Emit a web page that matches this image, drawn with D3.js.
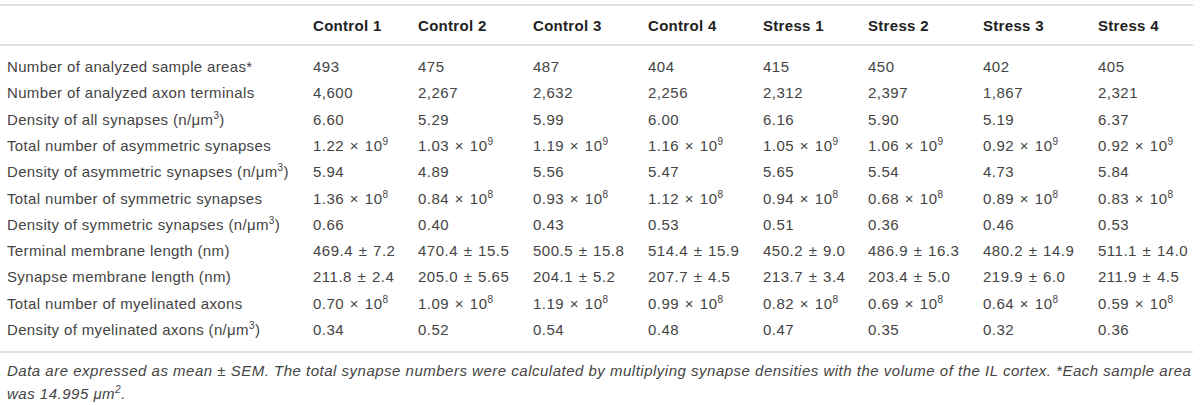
<!DOCTYPE html>
<html><head><meta charset="utf-8">
<script src="https://cdn.jsdelivr.net/npm/d3@7"></script>
<style>
html,body{margin:0;padding:0;background:#fff;}
svg{display:block;}
text{font-family:"Liberation Sans",Arial,sans-serif;}
</style></head>
<body><svg id="chart" width="1200" height="405"></svg>
<script>
const groups = ["Control 1","Control 2","Control 3","Control 4","Stress 1","Stress 2","Stress 3","Stress 4"];
const rowLabels = [
  "Number of analyzed sample areas*",
  "Number of analyzed axon terminals",
  "Density of all synapses (n/μm^3)",
  "Total number of asymmetric synapses",
  "Density of asymmetric synapses (n/μm^3)",
  "Total number of symmetric synapses",
  "Density of symmetric synapses (n/μm^3)",
  "Terminal membrane length (nm)",
  "Synapse membrane length (nm)",
  "Total number of myelinated axons",
  "Density of myelinated axons (n/μm^3)"
];
const sampleAreas   = [493,475,487,404,415,450,402,405];
const axonTerminals = [4600,2267,2632,2256,2312,2397,1867,2321];
const densityAll    = [6.60,5.29,5.99,6.00,6.16,5.90,5.19,6.37];
const totalAsym     = [1.22,1.03,1.19,1.16,1.05,1.06,0.92,0.92]; // x 10^9
const densityAsym   = [5.94,4.89,5.56,5.47,5.65,5.54,4.73,5.84];
const totalSym      = [1.36,0.84,0.93,1.12,0.94,0.68,0.89,0.83]; // x 10^8
const densitySym    = [0.66,0.40,0.43,0.53,0.51,0.36,0.46,0.53];
const terminalMean  = [469.4,470.4,500.5,514.4,450.2,486.9,480.2,511.1];
const terminalSem   = [7.2,15.5,15.8,15.9,9.0,16.3,14.9,14.0];
const synapseMean   = [211.8,205.0,204.1,207.7,213.7,203.4,219.9,211.9];
const synapseSem    = [2.4,5.65,5.2,4.5,3.4,5.0,6.0,4.5];
const totalMyel     = [0.70,1.09,1.19,0.99,0.82,0.69,0.64,0.59]; // x 10^8
const densityMyel   = [0.34,0.52,0.54,0.48,0.47,0.35,0.32,0.36];
const footnote = [
  "Data are expressed as mean ± SEM. The total synapse numbers were calculated by multiplying synapse densities with the volume of the IL cortex. *Each sample area",
  "was 14.995 μm^2."
];

const f2 = d3.format(".2f"), f1 = d3.format(".1f"), fc = d3.format(",");
const fsem = v => (Math.round(v*10) === v*10) ? f1(v) : String(v);
const sci = e => v => f2(v) + " × 10^" + e;
const pm = (m, s) => i => f1(m[i]) + " ± " + fsem(s[i]);
const rows = [
  i => String(sampleAreas[i]),
  i => fc(axonTerminals[i]),
  i => f2(densityAll[i]),
  i => sci(9)(totalAsym[i]),
  i => f2(densityAsym[i]),
  i => sci(8)(totalSym[i]),
  i => f2(densitySym[i]),
  pm(terminalMean, terminalSem),
  pm(synapseMean, synapseSem),
  i => sci(8)(totalMyel[i]),
  i => f2(densityMyel[i])
];

const svg = d3.select("#chart");
const colX = d3.scaleOrdinal().domain(groups).range([313,418,533,648,763,868,983,1098]);
const rowY = d3.scaleLinear().domain([0, rowLabels.length - 1]).range([72, 335]);
const fs = 15;
const textCol = "#444";

function addRich(sel, str) {
  const parts = str.split(/(\^\d+)/).filter(p => p);
  let pendingDy = 0;
  parts.forEach(p => {
    if (p[0] === "^") {
      sel.append("tspan").attr("dy", -6).attr("font-size", 10).text(p.slice(1));
      pendingDy = 6;
    } else {
      const ts = sel.append("tspan").text(p);
      if (pendingDy) { ts.attr("dy", pendingDy); pendingDy = 0; }
    }
  });
}

// rules
const ruleCol = "#dedede";
[5, 45, 352].forEach(y => svg.append("line").attr("x1", 0).attr("x2", 1193).attr("y1", y).attr("y2", y)
  .attr("stroke", ruleCol).attr("stroke-width", 2));

// header
svg.selectAll("text.hdr").data(groups).join("text").attr("class", "hdr")
  .attr("x", d => colX(d)).attr("y", 31).attr("font-size", fs).attr("font-weight", "bold")
  .attr("letter-spacing", 0.3).attr("fill", "#222").text(d => d);

// row labels
rowLabels.forEach((lab, r) => {
  const t = svg.append("text").attr("x", 7).attr("y", rowY(r)).attr("font-size", fs)
    .attr("letter-spacing", 0.35).attr("fill", textCol);
  addRich(t, lab);
});

// cells
rows.forEach((fn, r) => {
  groups.forEach((g, i) => {
    const t = svg.append("text").attr("x", colX(g)).attr("y", rowY(r)).attr("font-size", fs)
      .attr("letter-spacing", 0.5).attr("word-spacing", 1).attr("fill", textCol);
    addRich(t, fn(i));
  });
});

// footnote
footnote.forEach((line, k) => {
  const t = svg.append("text").attr("x", 7).attr("y", 376 + k * 23).attr("font-size", fs)
    .attr("letter-spacing", 0.5).attr("font-style", "italic").attr("fill", textCol);
  addRich(t, line);
});
</script></body></html>
